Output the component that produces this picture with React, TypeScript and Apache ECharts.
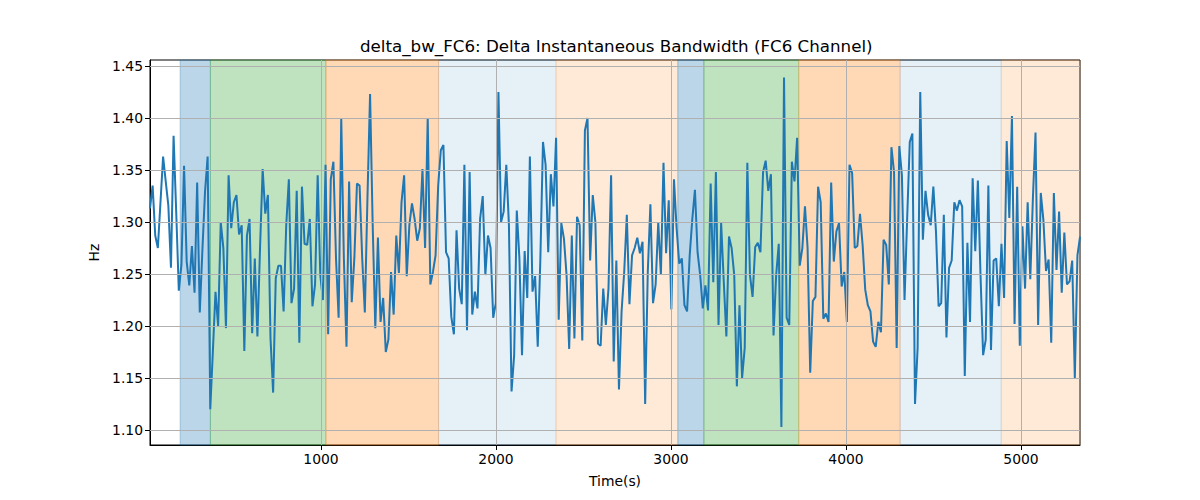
import React, { useEffect, useRef } from "react";
import * as echarts from "echarts";

// sample times: first sample and sampling step (s)
const TIME_START = 23;
const TIME_STEP = 14.97;

// delta instantaneous bandwidth, FC6 (Hz)
const deltaBw: number[] = [
  1.313, 1.335, 1.287, 1.275, 1.319, 1.363, 1.339, 1.316, 1.256, 1.383,
  1.31, 1.234, 1.259, 1.354, 1.262, 1.239, 1.277, 1.232, 1.338, 1.213,
  1.273, 1.329, 1.363, 1.12, 1.176, 1.233, 1.2, 1.3, 1.275, 1.198,
  1.345, 1.294, 1.319, 1.326, 1.288, 1.297, 1.176, 1.287, 1.303, 1.193,
  1.265, 1.19, 1.275, 1.351, 1.308, 1.326, 1.188, 1.136, 1.246, 1.258,
  1.258, 1.214, 1.297, 1.341, 1.222, 1.236, 1.33, 1.184, 1.334, 1.279,
  1.278, 1.303, 1.219, 1.24, 1.345, 1.249, 1.225, 1.355, 1.192, 1.341,
  1.358, 1.265, 1.208, 1.399, 1.265, 1.18, 1.339, 1.223, 1.265, 1.337,
  1.335, 1.265, 1.213, 1.323, 1.423, 1.297, 1.198, 1.285, 1.204, 1.227,
  1.175, 1.187, 1.252, 1.211, 1.287, 1.251, 1.319, 1.345, 1.248, 1.297,
  1.318, 1.303, 1.282, 1.294, 1.351, 1.275, 1.4, 1.24, 1.252, 1.268,
  1.335, 1.369, 1.374, 1.271, 1.265, 1.209, 1.192, 1.292, 1.236, 1.221,
  1.355, 1.196, 1.348, 1.211, 1.233, 1.217, 1.303, 1.325, 1.249, 1.287,
  1.275, 1.208, 1.222, 1.425, 1.3, 1.31, 1.355, 1.297, 1.137, 1.172,
  1.311, 1.265, 1.172, 1.272, 1.227, 1.363, 1.233, 1.248, 1.18, 1.265,
  1.377, 1.355, 1.271, 1.346, 1.315, 1.381, 1.206, 1.299, 1.284, 1.249,
  1.178, 1.287, 1.188, 1.305, 1.297, 1.186, 1.388, 1.4, 1.263, 1.326,
  1.3, 1.183, 1.181, 1.236, 1.201, 1.236, 1.345, 1.166, 1.263, 1.139,
  1.214, 1.252, 1.307, 1.221, 1.268, 1.275, 1.285, 1.27, 1.281, 1.125,
  1.252, 1.317, 1.222, 1.24, 1.3, 1.249, 1.357, 1.27, 1.321, 1.216,
  1.341, 1.294, 1.26, 1.265, 1.22, 1.214, 1.268, 1.303, 1.331, 1.271,
  1.249, 1.217, 1.239, 1.215, 1.337, 1.242, 1.348, 1.201, 1.299, 1.243,
  1.19, 1.286, 1.275, 1.249, 1.142, 1.22, 1.15, 1.179, 1.357, 1.249,
  1.228, 1.276, 1.28, 1.271, 1.348, 1.359, 1.33, 1.346, 1.191, 1.249,
  1.279, 1.103, 1.439, 1.208, 1.201, 1.358, 1.339, 1.381, 1.258, 1.275,
  1.315, 1.275, 1.155, 1.224, 1.228, 1.334, 1.319, 1.207, 1.212, 1.204,
  1.338, 1.262, 1.291, 1.299, 1.238, 1.252, 1.204, 1.355, 1.347, 1.275,
  1.277, 1.308, 1.278, 1.235, 1.22, 1.214, 1.185, 1.18, 1.204, 1.194,
  1.283, 1.278, 1.24, 1.372, 1.348, 1.179, 1.373, 1.345, 1.225, 1.303,
  1.377, 1.385, 1.125, 1.179, 1.425, 1.283, 1.33, 1.307, 1.297, 1.334,
  1.291, 1.219, 1.222, 1.307, 1.189, 1.256, 1.263, 1.319, 1.311, 1.321,
  1.315, 1.152, 1.28, 1.204, 1.342, 1.272, 1.34, 1.249, 1.172, 1.187,
  1.335, 1.177, 1.263, 1.265, 1.219, 1.279, 1.227, 1.378, 1.304, 1.402,
  1.202, 1.334, 1.181, 1.296, 1.236, 1.319, 1.245, 1.323, 1.386, 1.201,
  1.328, 1.302, 1.253, 1.264, 1.184, 1.328, 1.254, 1.31, 1.232, 1.29,
  1.24, 1.243, 1.263, 1.15, 1.268, 1.286,
];

// shaded phases: edges (s) and fill colours
const bandEdges = [195, 368, 1028, 1672, 2343, 3039, 3188, 3730, 4309, 4887, 5337];
const bandColors = [
  "rgba(31,119,180,0.3)",
  "rgba(44,160,44,0.3)",
  "rgba(255,127,14,0.3)",
  "rgba(31,119,180,0.11)",
  "rgba(255,127,14,0.16)",
  "rgba(31,119,180,0.3)",
  "rgba(44,160,44,0.3)",
  "rgba(255,127,14,0.3)",
  "rgba(31,119,180,0.11)",
  "rgba(255,127,14,0.16)",
];

const xTicks = [1000, 2000, 3000, 4000, 5000];
const yTicks = [1.1, 1.15, 1.2, 1.25, 1.3, 1.35, 1.4, 1.45];

const X_MIN = 23;
const X_MAX = 5337;
const Y_MIN = 1.0856;
const Y_MAX = 1.4558;

const FONT = "DejaVu Sans";

const App: React.FC = () => {
  const chartRef = useRef<HTMLDivElement>(null);

  useEffect(() => {
    document.body.style.margin = "0";
    if (!chartRef.current) return;

    const chart = echarts.init(chartRef.current, undefined, { renderer: "svg" });

    const points = deltaBw.map((v, i) => [TIME_START + i * TIME_STEP, v]);

    const bands = bandColors.map((color, i) => [
      {
        xAxis: bandEdges[i],
        itemStyle: { color, borderColor: color, borderWidth: 1 },
      },
      { xAxis: bandEdges[i + 1] },
    ]);

    const gridLines = [
      ...xTicks.map((v) => ({ xAxis: v })),
      ...yTicks.map((v) => ({ yAxis: v })),
    ];

    const option: echarts.EChartsOption = {
      animation: false,
      textStyle: { fontFamily: FONT },
      grid: {
        left: 150,
        right: 120,
        top: 60,
        bottom: 55,
        show: true,
        borderColor: "#000",
        borderWidth: 1,
        backgroundColor: "transparent",
      },
      graphic: [
        {
          type: "text",
          left: 360,
          top: 37,
          style: {
            text: "delta_bw_FC6: Delta Instantaneous Bandwidth (FC6 Channel)",
            font: `16.7px "${FONT}"`,
            fill: "#000",
          },
        },
      ],
      xAxis: {
        type: "value",
        min: X_MIN,
        max: X_MAX,
        name: "Time(s)",
        nameLocation: "middle",
        nameGap: 29,
        nameTextStyle: { fontFamily: FONT, fontSize: 13.9, color: "#000" },
        axisLine: { show: true, lineStyle: { color: "#000", width: 1 } },
        axisTick: {
          show: true,
          length: 5,
          customValues: xTicks,
          lineStyle: { color: "#000" },
        },
        axisLabel: {
          customValues: xTicks,
          formatter: (v: number) => String(v),
          fontFamily: FONT,
          fontSize: 13.9,
          color: "#000",
          margin: 7,
        },
        splitLine: { show: false },
      },
      yAxis: {
        type: "value",
        min: Y_MIN,
        max: Y_MAX,
        name: "Hz",
        nameLocation: "middle",
        nameGap: 46,
        nameTextStyle: { fontFamily: FONT, fontSize: 13.9, color: "#000" },
        axisLine: { show: true, lineStyle: { color: "#000", width: 1 } },
        axisTick: {
          show: true,
          length: 5,
          customValues: yTicks,
          lineStyle: { color: "#000" },
        },
        axisLabel: {
          customValues: yTicks,
          formatter: (v: number) => v.toFixed(2),
          fontFamily: FONT,
          fontSize: 13.9,
          color: "#000",
          margin: 7,
        },
        splitLine: { show: false },
      },
      series: [
        {
          name: "bands",
          type: "line",
          data: [],
          z: 1,
          silent: true,
          markArea: { silent: true, data: bands as any },
        },
        {
          name: "grid",
          type: "line",
          data: [],
          z: 2,
          silent: true,
          markLine: {
            silent: true,
            symbol: ["none", "none"],
            label: { show: false },
            lineStyle: { color: "#b0b0b0", width: 1, type: "solid" },
            data: gridLines as any,
          },
        },
        {
          name: "delta_bw_FC6",
          type: "line",
          data: points,
          z: 3,
          showSymbol: false,
          symbol: "none",
          lineStyle: { color: "#1f77b4", width: 2 },
        },
      ],
    };

    chart.setOption(option);

    return () => {
      chart.dispose();
    };
  }, []);

  return <div ref={chartRef} style={{ width: "1200px", height: "500px" }} />;
};

export default App;
